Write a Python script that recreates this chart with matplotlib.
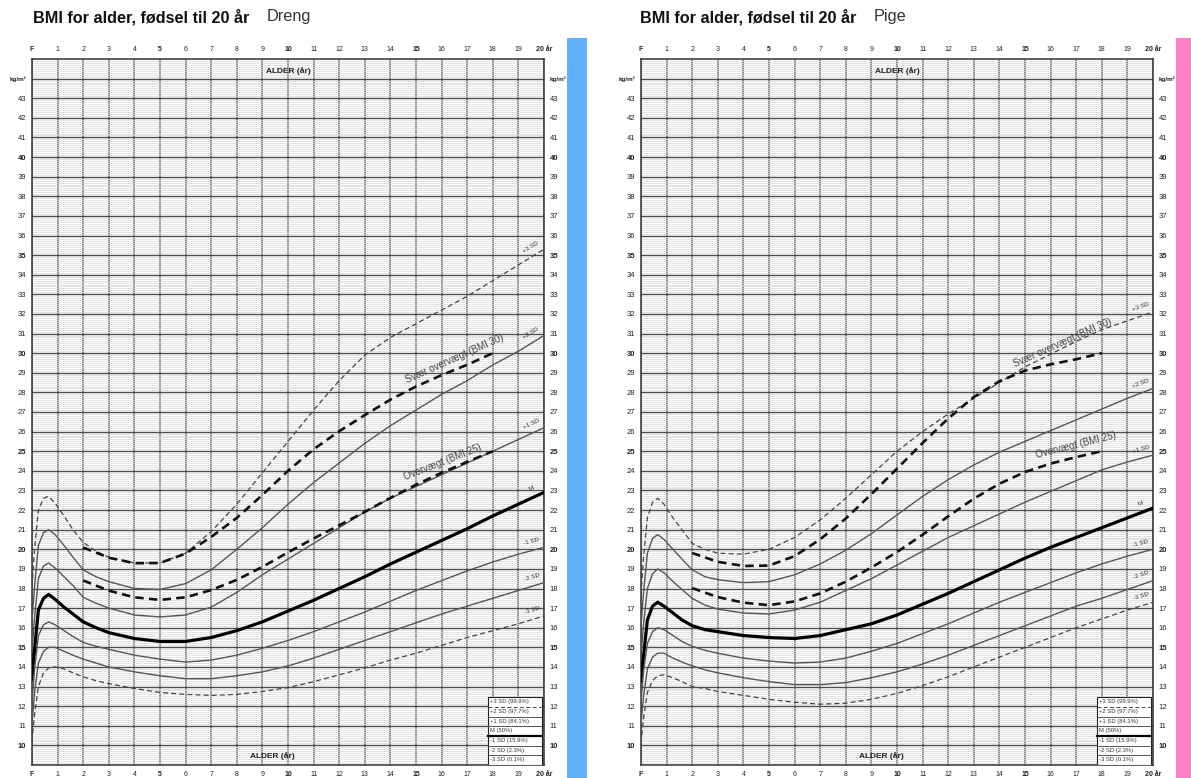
import numpy as np
import matplotlib
matplotlib.use('Agg')
import matplotlib.pyplot as plt
from matplotlib.patches import Rectangle

plt.rcParams['font.family'] = ['Liberation Sans', 'DejaVu Sans']

# ---- data ----
ages = [0, 0.1, 0.25, 0.45, 0.65, 0.9, 1.25, 1.6, 2, 2.5, 3, 4, 5, 6, 7, 8, 9,
        10, 11, 12, 13, 14, 15, 16, 17, 18, 19, 20]

# boys (Dreng)
boy_p3 = [18.1, 20.0, 22.0, 22.6, 22.7, 22.35, 21.7, 21.0, 20.35, 19.9, 19.6, 19.3, 19.3, 19.8,
          20.9, 22.3, 23.9, 25.5, 27.1, 28.6, 29.9, 30.8, 31.5, 32.2, 32.9, 33.7, 34.5, 35.3]
boy_p2 = [16.3, 18.1, 20.2, 20.85, 21.0, 20.75, 20.2, 19.6, 18.95, 18.6, 18.35, 18.0, 17.95, 18.25,
          18.95, 20.0, 21.1, 22.3, 23.4, 24.4, 25.4, 26.3, 27.1, 27.9, 28.6, 29.4, 30.1, 30.9]
boy_p1 = [14.8, 16.5, 18.5, 19.15, 19.3, 19.05, 18.6, 18.15, 17.55, 17.25, 17.0, 16.65, 16.55, 16.65,
          17.05, 17.8, 18.7, 19.5, 20.3, 21.1, 21.9, 22.6, 23.2, 23.8, 24.4, 25.0, 25.6, 26.2]
boy_m = [13.4, 14.9, 16.9, 17.5, 17.7, 17.45, 17.05, 16.7, 16.3, 16.0, 15.75, 15.45, 15.3, 15.3,
         15.5, 15.85, 16.3, 16.85, 17.4, 18.0, 18.6, 19.25, 19.85, 20.45, 21.05, 21.7, 22.3, 22.9]
boy_m1 = [12.2, 13.9, 15.6, 16.15, 16.3, 16.15, 15.85, 15.55, 15.25, 15.05, 14.9, 14.6, 14.4, 14.25,
          14.35, 14.6, 14.95, 15.35, 15.8, 16.3, 16.8, 17.35, 17.9, 18.4, 18.9, 19.35, 19.75, 20.1]
boy_m2 = [11.1, 12.7, 14.2, 14.8, 15.0, 15.0, 14.8, 14.6, 14.4, 14.2, 14.0, 13.75, 13.55, 13.4,
          13.4, 13.55, 13.75, 14.05, 14.45, 14.9, 15.35, 15.8, 16.25, 16.7, 17.1, 17.5, 17.9, 18.3]
boy_m3 = [10.2, 11.6, 13.0, 13.7, 13.95, 14.0, 13.9, 13.7, 13.5, 13.3, 13.15, 12.9, 12.7, 12.6,
          12.55, 12.6, 12.75, 12.95, 13.25, 13.6, 13.95, 14.35, 14.7, 15.1, 15.5, 15.85, 16.2, 16.6]

# girls (Pige)
girl_p3 = [17.7, 19.6, 21.6, 22.4, 22.6, 22.3, 21.6, 21.0, 20.3, 20.0, 19.8, 19.75, 20.0, 20.6,
           21.5, 22.6, 23.8, 25.0, 26.0, 26.9, 27.7, 28.5, 29.3, 29.95, 30.6, 31.2, 31.65, 32.1]
girl_p2 = [16.1, 17.8, 19.8, 20.55, 20.75, 20.5, 20.0, 19.5, 18.95, 18.6, 18.45, 18.3, 18.35, 18.7,
           19.25, 19.95, 20.8, 21.75, 22.7, 23.55, 24.3, 24.95, 25.5, 26.05, 26.6, 27.15, 27.7, 28.2]
girl_p1 = [14.6, 16.2, 18.0, 18.75, 19.0, 18.8, 18.35, 17.95, 17.5, 17.15, 16.95, 16.75, 16.7, 16.9,
           17.3, 17.9, 18.5, 19.2, 19.9, 20.6, 21.2, 21.8, 22.4, 22.95, 23.5, 24.05, 24.45, 24.8]
girl_m = [13.3, 14.6, 16.4, 17.1, 17.3, 17.1, 16.75, 16.4, 16.1, 15.9, 15.8, 15.6, 15.5, 15.45,
          15.6, 15.9, 16.2, 16.65, 17.2, 17.75, 18.35, 18.95, 19.55, 20.1, 20.6, 21.1, 21.6, 22.1]
girl_m1 = [12.2, 13.8, 15.2, 15.8, 16.0, 15.9, 15.6, 15.3, 15.05, 14.85, 14.7, 14.45, 14.3, 14.2,
           14.25, 14.45, 14.8, 15.2, 15.7, 16.2, 16.75, 17.3, 17.8, 18.3, 18.8, 19.25, 19.65, 20.0]
girl_m2 = [11.1, 12.5, 13.9, 14.5, 14.7, 14.7, 14.45, 14.25, 14.05, 13.85, 13.7, 13.45, 13.25, 13.1,
           13.1, 13.2, 13.45, 13.75, 14.15, 14.6, 15.1, 15.6, 16.1, 16.6, 17.1, 17.5, 17.95, 18.4]
girl_m3 = [10.1, 11.4, 12.7, 13.3, 13.55, 13.6, 13.45, 13.25, 13.0, 12.9, 12.75, 12.55, 12.35, 12.2,
           12.1, 12.15, 12.35, 12.65, 13.05, 13.5, 14.0, 14.5, 15.0, 15.5, 16.0, 16.45, 16.9, 17.3]

# overweight cut-offs (BMI 25 / BMI 30 at 18 years)
cut_ages = [2, 3, 4, 5, 6, 7, 8, 9, 10, 11, 12, 13, 14, 15, 16, 17, 18]
boy_bmi25 = [18.41, 17.89, 17.55, 17.42, 17.55, 17.92, 18.44, 19.10, 19.84, 20.55, 21.22, 21.91,
             22.62, 23.29, 23.90, 24.46, 25.0]
boy_bmi30 = [20.09, 19.57, 19.29, 19.30, 19.78, 20.63, 21.60, 22.77, 24.00, 25.10, 26.02, 26.84,
             27.63, 28.30, 28.88, 29.41, 30.0]
girl_bmi25 = [18.02, 17.56, 17.28, 17.15, 17.34, 17.75, 18.35, 19.07, 19.86, 20.74, 21.68, 22.58,
              23.34, 23.94, 24.37, 24.70, 25.0]
girl_bmi30 = [19.81, 19.36, 19.15, 19.17, 19.65, 20.51, 21.57, 22.81, 24.11, 25.42, 26.67, 27.76,
              28.57, 29.11, 29.43, 29.69, 30.0]

sd_names = ['+3 SD', '+2 SD', '+1 SD', 'M', '-1 SD', '-2 SD', '-3 SD']
legend_rows = ['+3 SD (99.9%)', '+2 SD (97.7%)', '+1 SD (84.1%)', 'M (50%)',
               '-1 SD (15.9%)', '-2 SD (2.3%)', '-3 SD (0.1%)']
x_labels = ['F'] + [str(a) for a in range(1, 20)] + ['20 år']
y_values = list(range(10, 44))

# line styles per SD curve
styles = [dict(color='#444444', lw=0.9, ls=(0, (4, 2.5))),
          dict(color='#555555', lw=1.0, ls='-'),
          dict(color='#555555', lw=1.0, ls='-'),
          dict(color='black', lw=2.3, ls='-'),
          dict(color='#555555', lw=1.0, ls='-'),
          dict(color='#555555', lw=1.0, ls='-'),
          dict(color='#444444', lw=0.9, ls=(0, (4, 2.5)))]
cut_style = dict(color='#111111', lw=1.9, ls=(0, (3.2, 2)))

W, H = 1191, 778
fig = plt.figure(figsize=(W / 100, H / 100), dpi=100)


def px_axes(x0, y0, x1, y1):
    return fig.add_axes([x0 / W, 1 - y1 / H, (x1 - x0) / W, (y1 - y0) / H])


def draw_chart(ax, curves, bmi25, bmi30, lbl30, lbl25):
    ax.set_xlim(0, 20)
    ax.set_ylim(9, 45)
    ax.set_axisbelow(True)

    ax.set_xticks(range(0, 21))
    ax.set_xticklabels(x_labels)
    ax.set_yticks(y_values + [44])
    ax.set_yticklabels([str(v) for v in y_values] + ['kg/m²'])
    ax.set_yticks(np.arange(9, 45.001, 0.1), minor=True)
    ax.tick_params(axis='both', which='both', length=0)
    ax.tick_params(axis='x', labeltop=True, labelbottom=True, labelsize=5, pad=4, colors='#222222')
    ax.tick_params(axis='y', labelleft=True, labelright=True, labelsize=5.5, pad=4, colors='#222222')
    for t, lab in zip(ax.xaxis.get_major_ticks(), x_labels):
        if lab in ('F', '5', '10', '15', '20 år'):
            t.label1.set_fontweight('bold')
            t.label2.set_fontweight('bold')
    for t, v in zip(ax.yaxis.get_major_ticks(), y_values + [44]):
        if v % 5 == 0 or v == 44:
            t.label1.set_fontweight('bold')
            t.label2.set_fontweight('bold')
        if v == 44:
            t.label1.set_fontsize(4.5)
            t.label2.set_fontsize(4.5)

    ax.grid(which='minor', axis='y', color='#d6d6d6', lw=0.5)
    ax.grid(which='major', axis='y', color='#4d4d4d', lw=1.0)
    ax.grid(which='major', axis='x', color='#6f6f6f', lw=1.1)
    for s in ax.spines.values():
        s.set_color('#333333')
        s.set_linewidth(1.1)

    # SD curves
    for name, vals, st in zip(sd_names, curves, styles):
        ax.plot(ages, vals, zorder=3, **st)
        y0 = np.interp(19.1, ages, vals)
        y1 = np.interp(20.0, ages, vals)
        p0 = ax.transData.transform((19.1, y0))
        p1 = ax.transData.transform((20.0, y1))
        ang = np.degrees(np.arctan2(p1[1] - p0[1], p1[0] - p0[0]))
        ax.text(19.55, np.interp(19.55, ages, vals) + 0.35, name, fontsize=4.5,
                color='#333333', rotation=ang, rotation_mode='anchor',
                ha='center', va='bottom', zorder=4)

    # cut-off curves
    ax.plot(cut_ages, bmi30, zorder=3, **cut_style)
    ax.plot(cut_ages, bmi25, zorder=3, **cut_style)
    ax.text(lbl30[0], lbl30[1], 'Svær overvægt (BMI 30)', fontsize=7, color='#444444',
            rotation=lbl30[2], ha='center', va='center', rotation_mode='anchor', zorder=4)
    ax.text(lbl25[0], lbl25[1], 'Overvægt (BMI 25)', fontsize=7, color='#444444',
            rotation=lbl25[2], ha='center', va='center', rotation_mode='anchor', zorder=4)

    # axis titles inside the grid
    ax.text(10, 44.4, 'ALDER (år)', fontsize=6, fontweight='bold', ha='center', va='center',
            color='#222222', zorder=4)
    ax.text(9.4, 9.45, 'ALDER (år)', fontsize=6, fontweight='bold', ha='center', va='center',
            color='#222222', zorder=4)

    # legend box
    bx0, bx1, by0, by1 = 17.8, 19.92, 9.0, 12.45
    ax.add_patch(Rectangle((bx0, by0), bx1 - bx0, by1 - by0, facecolor='white',
                           edgecolor='#222222', lw=0.8, zorder=5))
    rh = (by1 - by0) / len(legend_rows)
    for i, (lab, st) in enumerate(zip(legend_rows, styles)):
        top = by1 - i * rh
        ax.text(bx0 + 0.08, top - rh * 0.45, lab, fontsize=4.2, color='#333333',
                ha='left', va='center', zorder=6)
        if i < len(legend_rows) - 1:
            ax.plot([bx0 + 0.03, bx1 - 0.03], [top - rh, top - rh], zorder=6,
                    color=st['color'], lw=1.6 if st['lw'] > 2 else 0.7, ls=st['ls'])


ax_b = px_axes(32, 59, 544, 765)
ax_g = px_axes(641, 59, 1153, 765)

draw_chart(ax_b, [boy_p3, boy_p2, boy_p1, boy_m, boy_m1, boy_m2, boy_m3],
           boy_bmi25, boy_bmi30, (16.5, 29.7, 24), (16.05, 24.45, 21.5))
draw_chart(ax_g, [girl_p3, girl_p2, girl_p1, girl_m, girl_m1, girl_m2, girl_m3],
           girl_bmi25, girl_bmi30, (16.45, 30.55, 24), (17.0, 25.3, 14))

# coloured side bars
fig.patches.append(Rectangle((567 / W, 0), 20 / W, 1 - 38 / H, transform=fig.transFigure,
                             facecolor='#62b1f9', edgecolor='none'))
fig.patches.append(Rectangle((1176 / W, 0), 20 / W, 1 - 38 / H, transform=fig.transFigure,
                             facecolor='#fd7fc6', edgecolor='none'))

# titles
fig.text(33 / W, 1 - 17 / H, 'BMI for alder, fødsel til 20 år', fontsize=11.7, fontweight='bold',
         va='center', ha='left', color='#111111')
fig.text(267 / W, 1 - 17 / H, 'Dreng', fontsize=11.7, va='center', ha='left', color='#333333')
fig.text(640 / W, 1 - 17 / H, 'BMI for alder, fødsel til 20 år', fontsize=11.7, fontweight='bold',
         va='center', ha='left', color='#111111')
fig.text(874 / W, 1 - 17 / H, 'Pige', fontsize=11.7, va='center', ha='left', color='#333333')

fig.savefig('out.png', dpi=100)
